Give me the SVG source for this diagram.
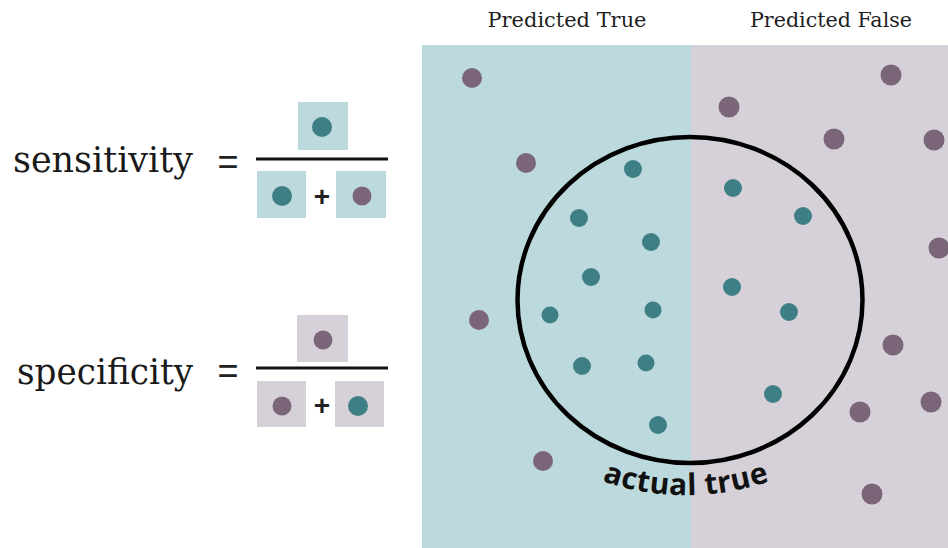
<svg xmlns="http://www.w3.org/2000/svg" width="948" height="548" viewBox="0 0 948 548">
<style>
.lbl{font-family:"DejaVu Serif","Liberation Serif",serif;fill:#1a1a1a}
.hdr{font-family:"DejaVu Serif","Liberation Serif",serif;font-size:19.5px;fill:#1e1e1e}
.op{font-family:"Liberation Sans",Arial,sans-serif;fill:#222}
.tp{fill:#3e7f85}
.pp{fill:#7b6679}
.sqT{fill:#bcdadd}
.sqF{fill:#d6d1d8}
.bar{stroke:#111;stroke-width:3}
</style>
<defs>
<path id="arcText" d="M 556 460.3 A 260 260 0 0 0 816 460.3"/>
</defs>
<rect width="948" height="548" fill="#ffffff"/>
<g id="panels">
<rect id="predTrue" x="422" y="45" width="269" height="503" fill="#bcdadd"/>
<rect id="predFalse" x="691" y="45" width="257" height="503" fill="#d6d1d8"/>
<text class="hdr" x="567" y="27" text-anchor="middle" textLength="159" lengthAdjust="spacingAndGlyphs">Predicted True</text>
<text class="hdr" x="831" y="27" text-anchor="middle" textLength="162" lengthAdjust="spacingAndGlyphs">Predicted False</text>
</g>
<g id="dots">
<circle class="pp" cx="472" cy="78" r="10"/>
<circle class="pp" cx="526" cy="163" r="10"/>
<circle class="pp" cx="479" cy="320" r="10"/>
<circle class="pp" cx="543" cy="461" r="10"/>
<circle class="tp" cx="633" cy="169" r="9"/>
<circle class="tp" cx="579" cy="218" r="9"/>
<circle class="tp" cx="651" cy="242" r="9"/>
<circle class="tp" cx="591" cy="277" r="9"/>
<circle class="tp" cx="550" cy="315" r="8.5"/>
<circle class="tp" cx="653" cy="310" r="8.5"/>
<circle class="tp" cx="582" cy="366" r="9"/>
<circle class="tp" cx="646" cy="363" r="8.5"/>
<circle class="tp" cx="658" cy="425" r="9"/>
<circle class="tp" cx="733" cy="188" r="9"/>
<circle class="tp" cx="803" cy="216" r="9"/>
<circle class="tp" cx="732" cy="287" r="9"/>
<circle class="tp" cx="789" cy="312" r="9"/>
<circle class="tp" cx="773" cy="394" r="9"/>
<circle class="pp" cx="891" cy="75" r="10.5"/>
<circle class="pp" cx="729" cy="107" r="10.5"/>
<circle class="pp" cx="834" cy="139" r="10.5"/>
<circle class="pp" cx="934" cy="140" r="10.5"/>
<circle class="pp" cx="939" cy="248" r="10.5"/>
<circle class="pp" cx="893" cy="345" r="10.5"/>
<circle class="pp" cx="931" cy="402" r="10.5"/>
<circle class="pp" cx="860" cy="412" r="10.5"/>
<circle class="pp" cx="872" cy="494" r="10.5"/>
</g>
<g id="actualTrue">
<ellipse cx="690" cy="300" rx="172.5" ry="163" fill="none" stroke="#000" stroke-width="4.5"/>
<text font-family="'Open Sans','DejaVu Sans',sans-serif" font-weight="bold" font-size="30" fill="#111" letter-spacing="0.5"><textPath href="#arcText" startOffset="50%" text-anchor="middle">actual true</textPath></text>
</g>
<g id="sensitivity">
<text class="lbl" x="13" y="172" font-size="35" textLength="180" lengthAdjust="spacingAndGlyphs">sensitivity</text>
<text class="op" x="228" y="174" font-size="36" text-anchor="middle">=</text>
<rect class="sqT" x="298" y="102" width="50" height="48"/>
<circle class="tp" cx="322" cy="127" r="10"/>
<line class="bar" x1="256" y1="159" x2="388" y2="159"/>
<rect class="sqT" x="257" y="171" width="49" height="47"/>
<circle class="tp" cx="282" cy="196" r="10"/>
<text class="op" x="322" y="206" font-size="28" font-weight="bold" text-anchor="middle">+</text>
<rect class="sqT" x="336" y="171" width="50" height="47"/>
<circle class="pp" cx="362" cy="196" r="9.5"/>
</g>
<g id="specificity">
<text class="lbl" x="17" y="384" font-size="35" textLength="176" lengthAdjust="spacingAndGlyphs">specificity</text>
<text class="op" x="228" y="383" font-size="36" text-anchor="middle">=</text>
<rect class="sqF" x="297" y="315" width="51" height="47"/>
<circle class="pp" cx="323" cy="340" r="9.5"/>
<line class="bar" x1="256" y1="368" x2="388" y2="368"/>
<rect class="sqF" x="257" y="381" width="49" height="46"/>
<circle class="pp" cx="282" cy="406" r="9.5"/>
<text class="op" x="322" y="415" font-size="28" font-weight="bold" text-anchor="middle">+</text>
<rect class="sqF" x="335" y="381" width="49" height="46"/>
<circle class="tp" cx="358" cy="406" r="10"/>
</g>
</svg>
